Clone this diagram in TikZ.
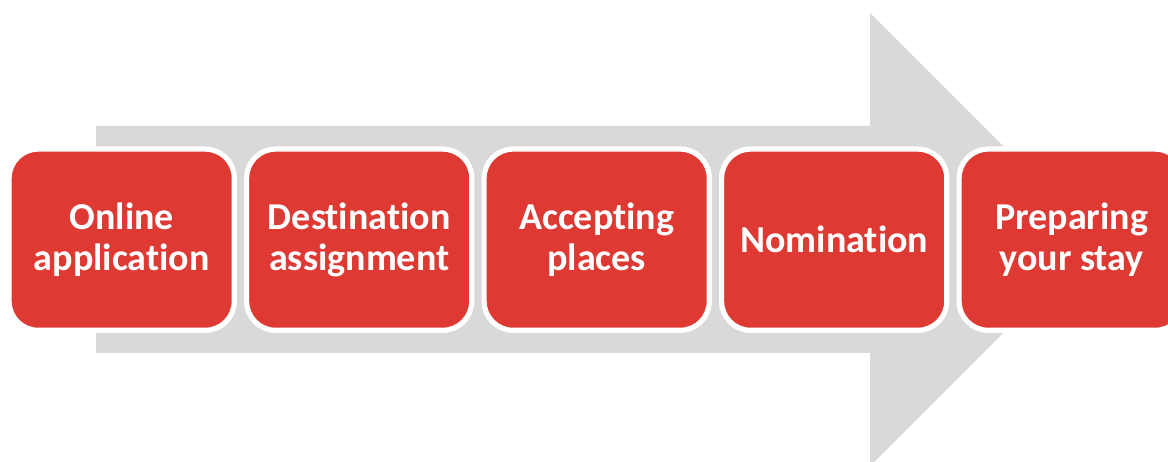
\documentclass[tikz,border=0pt]{standalone}
\usepackage{fontspec}
\setmainfont{Carlito}[Ligatures=NoCommon]
\definecolor{stepred}{RGB}{223,57,51}
\definecolor{arrowgray}{RGB}{217,217,217}
\begin{document}
\begin{tikzpicture}[x=1pt,y=-1pt,
  stepbox/.style={rectangle, rounded corners=29pt, fill=stepred, draw=white,
    line width=5.2pt, minimum width=225.2pt, minimum height=181.2pt,
    inner sep=0pt, align=center, text=white,
    font=\bfseries\fontsize{38}{41}\selectfont}]
\useasboundingbox (0,0) rectangle (1168,462);
\clip (0,0) rectangle (1168,462);
\fill[arrowgray] (96,126) -- (870,126) -- (870,13) -- (1096.5,239.5)
  -- (870,466) -- (870,353) -- (96,353) -- cycle;
\node[stepbox] (s1) at (121.7,239.7) {Online\\application};
\node[stepbox] (s2) at (359.2,239.7) {Destination\\assignment};
\node[stepbox] (s3) at (596.7,239.7) {Accepting\\places};
\node[stepbox] (s4) at (834.2,239.7) {Nomination};
\node[stepbox] (s5) at (1071.7,239.7) {Preparing\\your stay};
\end{tikzpicture}
\end{document}
